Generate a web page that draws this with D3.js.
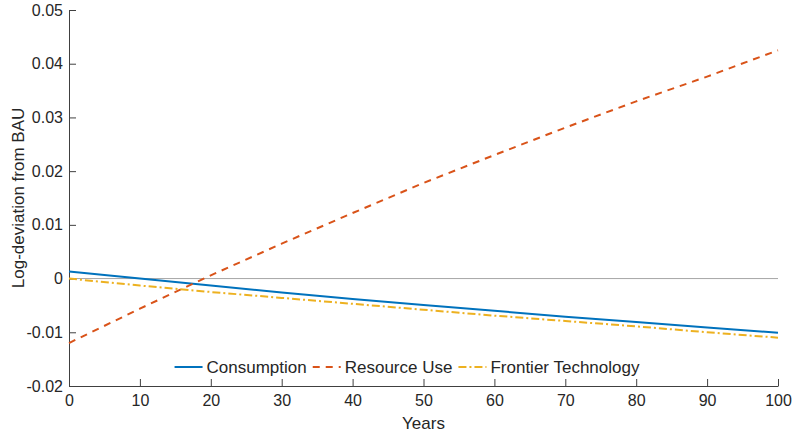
<!DOCTYPE html>
<html>
<head>
<meta charset="utf-8">
<script src="https://cdn.jsdelivr.net/npm/d3@7"></script>
<style>
  body { margin: 0; background: #fff; }
  text { font-family: "Liberation Sans", Arial, sans-serif; fill: #262626; }
</style>
</head>
<body>
<svg id="chart" width="793" height="437"></svg>
<script>
// data
const years = [0, 10, 20, 30, 40, 50, 60, 70, 80, 90, 100];
const consumption = [0.0013, 0.0000, -0.0013, -0.0026, -0.0038, -0.0049, -0.0060, -0.0071, -0.0081, -0.0091, -0.0101];
const resourceUse = [-0.0120, -0.0056, 0.0006, 0.0065, 0.0122, 0.0178, 0.0230, 0.0281, 0.0330, 0.0376, 0.0425];
const frontierTech = [0.0000, -0.0013, -0.0025, -0.0036, -0.0047, -0.0058, -0.0069, -0.0079, -0.0089, -0.0100, -0.0110];
const xTicks = [0, 10, 20, 30, 40, 50, 60, 70, 80, 90, 100];
const yTicks = [-0.02, -0.01, 0, 0.01, 0.02, 0.03, 0.04, 0.05];
const seriesNames = ['Consumption', 'Resource Use', 'Frontier Technology'];

const series = [
  { name: seriesNames[0], values: consumption, color: '#0072BD', dash: null },
  { name: seriesNames[1], values: resourceUse, color: '#D95319', dash: '7,6' },
  { name: seriesNames[2], values: frontierTech, color: '#EDB120', dash: '8,3,2,3' }
];

const svg = d3.select('#chart');
const margin = { left: 69, right: 15, top: 10, bottom: 51 };
const width = 793, height = 437;
const axisColor = '#404040';

const x = d3.scaleLinear().domain([0, 100]).range([margin.left, width - margin.right]);
const y = d3.scaleLinear().domain([-0.02, 0.05]).range([height - margin.bottom, margin.top]);

// zero reference line
svg.append('line')
  .attr('x1', x(0)).attr('x2', x(100))
  .attr('y1', y(0)).attr('y2', y(0))
  .attr('stroke', '#a6a6a6').attr('stroke-width', 1);

// axes (hyphen minus like the original, not the unicode minus)
const xAxis = svg.append('g')
  .attr('transform', `translate(0,${y(-0.02)})`)
  .call(d3.axisBottom(x).tickValues(xTicks).tickSize(-7).tickPadding(9).tickSizeOuter(0));
const yAxis = svg.append('g')
  .attr('transform', `translate(${x(0)},0)`)
  .call(d3.axisLeft(y).tickValues(yTicks).tickSize(-7).tickPadding(6).tickSizeOuter(0)
    .tickFormat(d => d === 0 ? '0' : d3.format('.2f')(d).replace('−', '-')));

[xAxis, yAxis].forEach(g => {
  g.select('.domain').attr('stroke', axisColor).attr('stroke-width', 1);
  g.selectAll('.tick line').attr('stroke', axisColor);
  g.selectAll('.tick text').attr('font-size', 16).attr('fill', '#262626')
    .style('font-family', '"Liberation Sans", Arial, sans-serif');
});

// axis labels
svg.append('text')
  .attr('x', (x(0) + x(100)) / 2).attr('y', 429)
  .attr('text-anchor', 'middle').attr('font-size', 17)
  .text('Years');
svg.append('text')
  .attr('transform', `translate(24,${(y(-0.02) + y(0.05)) / 2}) rotate(-90)`)
  .attr('text-anchor', 'middle').attr('font-size', 17)
  .text('Log-deviation from BAU');

// lines
const line = d3.line()
  .x((d, i) => x(years[i]))
  .y(d => y(d));

svg.append('g').selectAll('path')
  .data(series)
  .join('path')
  .attr('d', d => line(d.values))
  .attr('fill', 'none')
  .attr('stroke', d => d.color)
  .attr('stroke-width', 2)
  .attr('stroke-dasharray', d => d.dash);

// legend, laid out horizontally and centred
const legend = svg.append('g');
const sampleLen = 28, textGap = 4, itemGap = 6, legendY = 367;
let cx = 0;
series.forEach(s => {
  const item = legend.append('g').attr('transform', `translate(${cx},0)`);
  item.append('line')
    .attr('x1', 0).attr('x2', sampleLen)
    .attr('y1', legendY).attr('y2', legendY)
    .attr('stroke', s.color).attr('stroke-width', 2)
    .attr('stroke-dasharray', s.dash);
  const t = item.append('text')
    .attr('x', sampleLen + textGap).attr('y', legendY)
    .attr('dy', '0.35em').attr('font-size', 17)
    .text(s.name);
  cx += sampleLen + textGap + t.node().getComputedTextLength() + itemGap;
});
const legendW = cx - itemGap;
legend.attr('transform', `translate(${407 - legendW / 2},0)`);
</script>
</body>
</html>
